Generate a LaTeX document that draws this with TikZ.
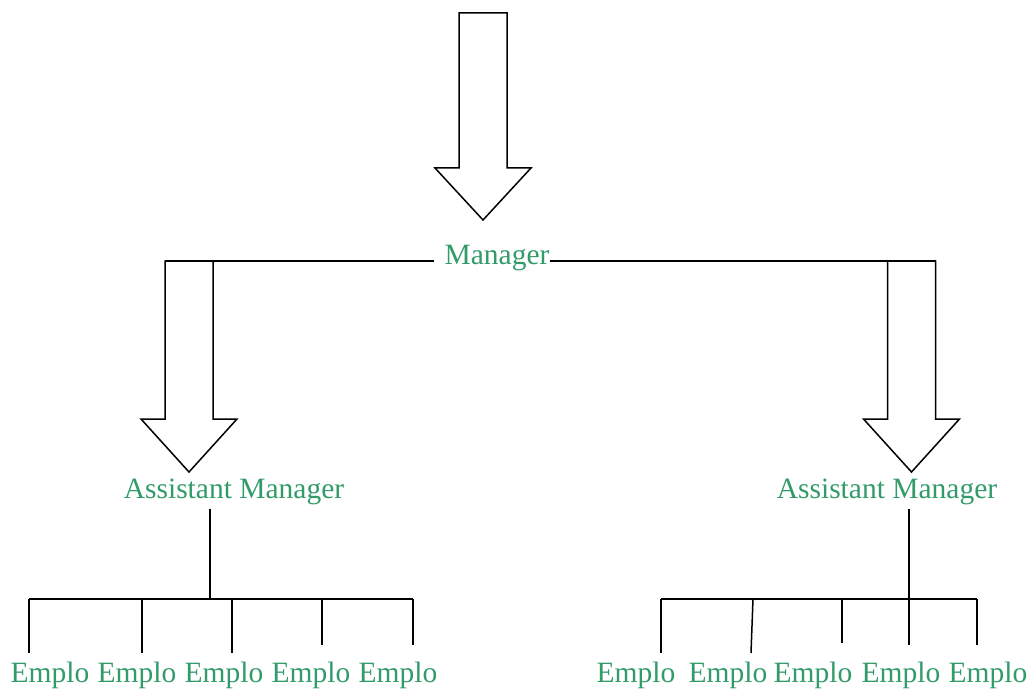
\documentclass[tikz,border=0pt]{standalone}
\usepackage{fontspec}
\setmainfont{Liberation Serif}
\usepackage{xcolor}
\definecolor{staffgreen}{RGB}{50,155,105}
\usepackage{tikz}
\usetikzlibrary{calc}
\newcommand{\shafthalf}{24}
\newcommand{\headhalf}{48}
\newcommand{\blockarrow}[3]{%
    \draw[hollowarrow]
        ($(#1)+(-\shafthalf,0)$) -- ($(#2)+(-\shafthalf,-#3)$) -- ($(#2)+(-\headhalf,-#3)$)
        -- (#2)
        -- ($(#2)+(\headhalf,-#3)$) -- ($(#2)+(\shafthalf,-#3)$) -- ($(#1)+(\shafthalf,0)$) -- cycle;
}
\tikzset{
    title/.style={text=staffgreen, font=\fontsize{29.5}{34}\selectfont, inner sep=0pt, anchor=base},
    link/.style={line width=1.5pt},
    hollowarrow/.style={line width=1.5pt, line join=miter, fill=white}
}
\begin{document}
\begin{tikzpicture}[x=1pt, y=-1pt]
              \useasboundingbox (0,0) rectangle (1034,690);

              % manager
              \coordinate (top-tail) at (483,13);
              \coordinate (top-tip) at (483,220);
              \blockarrow{top-tail}{top-tip}{52}

              \node[title] (mgr) at (497,264) {Manager};

              \coordinate (la-tail) at (189,261);
              \coordinate (la-tip) at (189,472);
              \coordinate (ra-tail) at (911.5,261);
              \coordinate (ra-tip) at (911.5,472);
              \blockarrow{la-tail}{la-tip}{53}
              \blockarrow{ra-tail}{ra-tip}{53}

              \draw[link] ($(la-tail)+(-\shafthalf,0)$) -- ($(mgr.west |- la-tail)+(-10,0)$);
              \draw[link] (mgr.east |- la-tail) -- ($(ra-tail)+(\shafthalf,0)$);

              % assistant managers
              \node[title] (aml) at (234,498) {Assistant Manager};
              \node[title] (amr) at (887,498) {Assistant Manager};

              \coordinate (l-bus) at (210,599);
              \coordinate (r-bus) at (909,599);
              \draw[link, shorten <=4pt] (aml.south -| l-bus) -- (l-bus);
              \draw[link, shorten <=4pt] (amr.south -| r-bus) -- (r-bus);

              \foreach \n/\xt/\xb/\y in {1/29/29/653, 2/142/142/653, 3/232/232/653, 4/322/322/645, 5/413/413/645} {
                  \coordinate (l-top-\n) at (\xt,599);
                  \coordinate (l-end-\n) at (\xb,\y);
                  \draw[link] (l-top-\n) -- (l-end-\n);
              }
              \draw[link] (l-top-1) -- (l-top-5);

              \foreach \n/\xt/\xb/\y in {1/661/661/653, 2/753/751/653, 3/842/842/643, 4/909/909/645, 5/977/977/645} {
                  \coordinate (r-top-\n) at (\xt,599);
                  \coordinate (r-end-\n) at (\xb,\y);
                  \draw[link] (r-top-\n) -- (r-end-\n);
              }
              \draw[link] (r-top-1) -- (r-top-5);

              % employees
              \path (0,682)
                  ++(50,0) node[title] (l-emp-1) {Emplo}
                  ++(87,0) node[title] (l-emp-2) {Emplo}
                  ++(87,0) node[title] (l-emp-3) {Emplo}
                  ++(87,0) node[title] (l-emp-4) {Emplo}
                  ++(87,0) node[title] (l-emp-5) {Emplo};

              \path (0,682)
                  ++(636,0) node[title] (r-emp-1) {Emplo}
                  ++(92,0) node[title] (r-emp-2) {Emplo}
                  ++(85,0) node[title] (r-emp-3) {Emplo}
                  ++(88,0) node[title] (r-emp-4) {Emplo}
                  ++(87,0) node[title] (r-emp-5) {Emplo};
          \end{tikzpicture}
\end{document}
